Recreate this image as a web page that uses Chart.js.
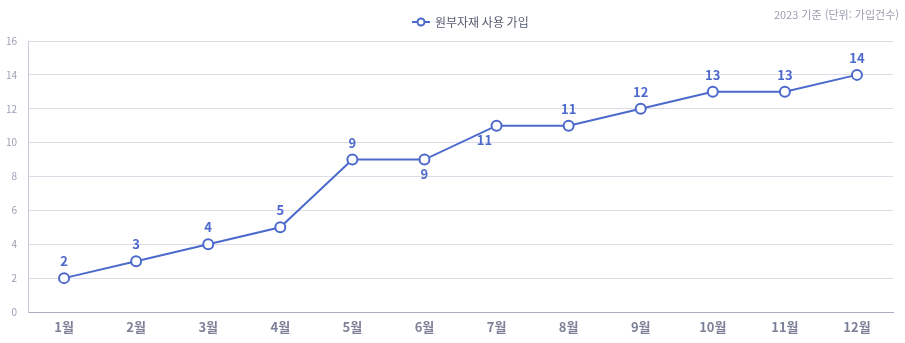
<!DOCTYPE html>
<html lang="ko">
<head>
<meta charset="utf-8">
<script src="https://cdn.jsdelivr.net/npm/chart.js@4"></script>
<style>
  html, body { margin: 0; padding: 0; background: #fff; }
  .wrap { position: relative; width: 905px; height: 343px; }
  .note {
    position: absolute; right: 6px; top: 6px;
    font: 11px "Noto Sans CJK KR", "Noto Sans", sans-serif;
    color: #9a9db0;
  }
</style>
</head>
<body>
<div class="wrap">
  <div class="note">2023 기준 (단위: 가입건수)</div>
  <canvas id="signup-graph" width="905" height="343"></canvas>
</div>
<script>
const months = ['1월', '2월', '3월', '4월', '5월', '6월', '7월', '8월', '9월', '10월', '11월', '12월'];
const signups = [2, 3, 4, 5, 9, 9, 11, 11, 12, 13, 13, 14];
const seriesName = '원부자재 사용 가입';

const lineColor = '#4c69cc';
const fontFamily = '"Noto Sans CJK KR", "Noto Sans", sans-serif';

// where each value label sits relative to its point
const labelSpots = ['top', 'top', 'top', 'top', 'top', 'bottom', 'bottomLeft', 'top', 'top', 'top', 'top', 'top'];

const valueLabels = {
    id: 'valueLabels',
    afterDatasetsDraw(chart) {
        const ctx = chart.ctx;
        const meta = chart.getDatasetMeta(0);
        ctx.save();
        ctx.font = 'bold 13px ' + fontFamily;
        ctx.fillStyle = lineColor;
        ctx.textAlign = 'center';
        ctx.textBaseline = 'middle';
        meta.data.forEach((pt, i) => {
            let dx = 0, dy = -17;
            if (labelSpots[i] === 'bottom') dy = 14;
            if (labelSpots[i] === 'bottomLeft') { dx = -12; dy = 14; }
            ctx.fillText(String(signups[i]), pt.x + dx, pt.y + dy);
        });
        ctx.restore();
    }
};

// legend: short line with a hollow point, then the series name
const lineLegend = {
    id: 'lineLegend',
    afterDraw(chart) {
        const ctx = chart.ctx;
        const x = 412, y = 22;
        ctx.save();
        ctx.lineWidth = 2;
        ctx.strokeStyle = lineColor;
        ctx.beginPath();
        ctx.moveTo(x, y);
        ctx.lineTo(x + 18, y);
        ctx.stroke();
        ctx.beginPath();
        ctx.arc(x + 9, y, 3.5, 0, Math.PI * 2);
        ctx.fillStyle = '#ffffff';
        ctx.fill();
        ctx.stroke();
        ctx.font = '12px ' + fontFamily;
        ctx.fillStyle = '#555a70';
        ctx.textAlign = 'left';
        ctx.textBaseline = 'middle';
        ctx.fillText(seriesName, x + 23, y);
        ctx.restore();
    }
};

const ctx = document.getElementById('signup-graph').getContext('2d');
new Chart(ctx, {
    type: 'line',
    data: {
        labels: months,
        datasets: [{
            label: seriesName,
            data: signups,
            borderColor: lineColor,
            backgroundColor: '#ffffff',
            borderWidth: 2,
            pointRadius: 5,
            pointBorderWidth: 2,
            pointBackgroundColor: '#ffffff',
            pointBorderColor: lineColor,
            tension: 0
        }]
    },
    options: {
        responsive: false,
        animation: false,
        layout: { padding: { left: 0, right: 12, top: 41, bottom: 0 } },
        plugins: {
            legend: { display: false },
            tooltip: { enabled: true }
        },
        scales: {
            x: {
                offset: true,
                grid: {
                    offset: true,
                    drawTicks: false,
                    color: c => c.index === months.length ? '#d3d5e0' : 'rgba(0,0,0,0)'
                },
                border: { color: '#a9adc4' },
                ticks: {
                    color: '#7d8197',
                    font: { family: fontFamily, size: 13, weight: 'bold', lineHeight: 1 },
                    padding: 9
                }
            },
            y: {
                min: 0,
                max: 16,
                afterFit: scale => { scale.width = 28; },
                ticks: {
                    stepSize: 2,
                    color: '#9a9db0',
                    font: { family: fontFamily, size: 10 },
                    padding: 11
                },
                grid: { color: '#dcdde6', drawTicks: false },
                border: { color: '#c9cbd8' }
            }
        }
    },
    plugins: [valueLabels, lineLegend]
});
</script>
</body>
</html>
